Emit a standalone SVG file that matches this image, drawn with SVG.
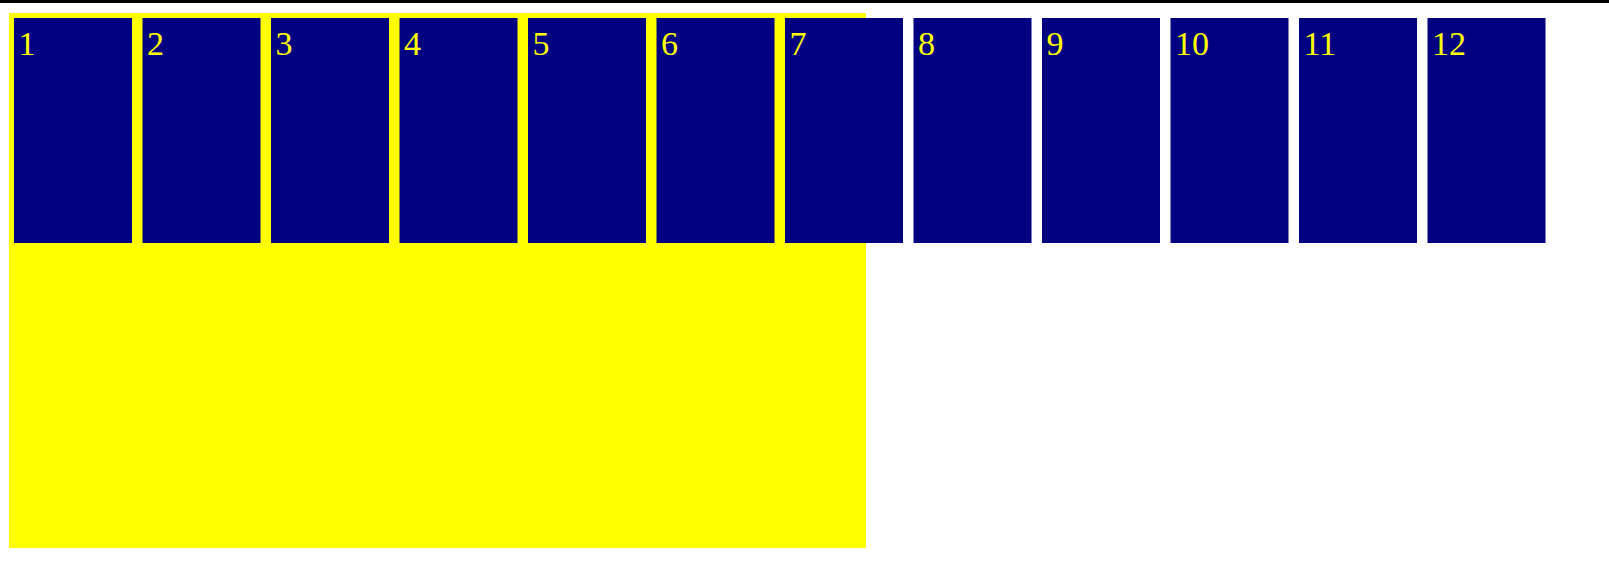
<svg xmlns="http://www.w3.org/2000/svg" width="1609" height="567" viewBox="0 0 1609 567">
<style>
.box{fill:#000080}
.lbl{fill:#ffff00;font-family:"Liberation Serif","Times New Roman",serif;font-size:34px}
</style>
<rect x="0" y="0" width="1609" height="567" fill="#ffffff"/>
<rect x="0" y="0" width="1609" height="3" fill="#000000"/>
<rect id="container" x="9" y="13" width="857" height="535" fill="#ffff00"/>
<g id="n1"><rect class="box" x="14" y="18" width="118" height="225"/><text class="lbl" x="18.5" y="55">1</text></g>
<g id="n2"><rect class="box" x="142.5" y="18" width="118" height="225"/><text class="lbl" x="147" y="55">2</text></g>
<g id="n3"><rect class="box" x="271" y="18" width="118" height="225"/><text class="lbl" x="275.5" y="55">3</text></g>
<g id="n4"><rect class="box" x="399.5" y="18" width="118" height="225"/><text class="lbl" x="404" y="55">4</text></g>
<g id="n5"><rect class="box" x="528" y="18" width="118" height="225"/><text class="lbl" x="532.5" y="55">5</text></g>
<g id="n6"><rect class="box" x="656.5" y="18" width="118" height="225"/><text class="lbl" x="661" y="55">6</text></g>
<g id="n7"><rect class="box" x="785" y="18" width="118" height="225"/><text class="lbl" x="789.5" y="55">7</text></g>
<g id="n8"><rect class="box" x="913.5" y="18" width="118" height="225"/><text class="lbl" x="918" y="55">8</text></g>
<g id="n9"><rect class="box" x="1042" y="18" width="118" height="225"/><text class="lbl" x="1046.5" y="55">9</text></g>
<g id="n10"><rect class="box" x="1170.5" y="18" width="118" height="225"/><text class="lbl" x="1175" y="55">10</text></g>
<g id="n11"><rect class="box" x="1299" y="18" width="118" height="225"/><text class="lbl" x="1303.5" y="55">11</text></g>
<g id="n12"><rect class="box" x="1427.5" y="18" width="118" height="225"/><text class="lbl" x="1432" y="55">12</text></g>
<g id="connectors"></g>
</svg>
